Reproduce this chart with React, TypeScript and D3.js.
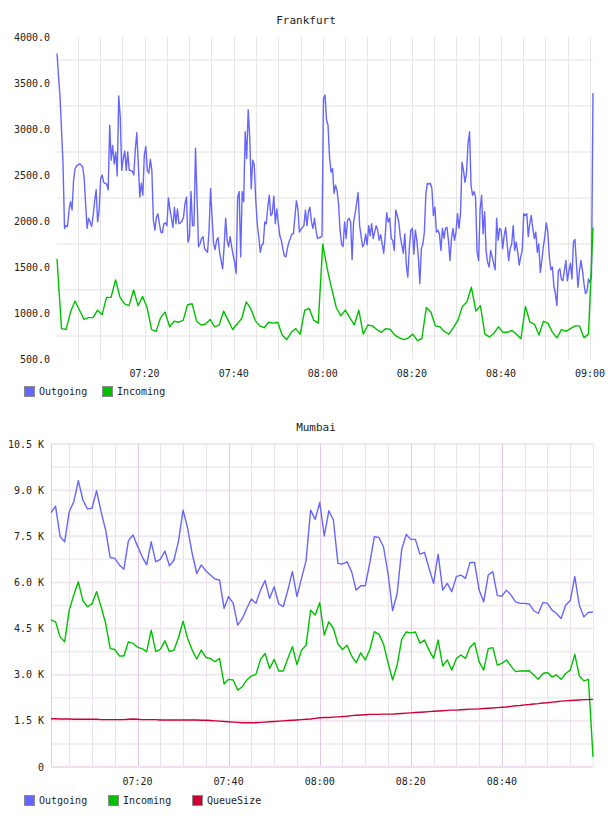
import React, { useRef, useEffect } from 'react';
import * as d3 from 'd3';

// Frankfurt: outgoing sampled every ~20 s, incoming every minute, 07:00:20 - 09:00:40
const frankfurtOutgoing = [
  3820, 3580, 3350, 2990, 2620, 1920, 1950, 1940, 2120, 2210, 2120, 2440, 2570, 2600, 2610, 2620, 2610, 2590, 2480, 2190,
  1920, 2030, 1990, 1940, 2060, 2210, 2340, 1990, 2120, 2460, 2500, 2420, 2410, 2400, 2340, 3040, 2660, 2820, 2620, 2750,
  2490, 3360, 3130, 2550, 2680, 2760, 2550, 2750, 2550, 2550, 2540, 2500, 2770, 2960, 2620, 2260, 2410, 2280, 2720, 2810,
  2550, 2520, 2670, 2550, 2010, 1900, 2040, 2080, 1970, 1880, 1870, 1970, 1980, 1950, 2250, 2130, 2030, 1930, 2150, 1970,
  2130, 1970, 1980, 2000, 2040, 2190, 2260, 1770, 1830, 2320, 1950, 1950, 2790, 2260, 1720, 1750, 1810, 1830, 1700, 1680,
  1660, 1900, 2350, 2040, 1750, 1690, 1790, 1820, 1660, 1570, 1480, 1720, 2030, 1790, 1720, 1830, 1720, 1630, 1550,
  1430, 2260, 2320, 1610, 2320, 2210, 2970, 2680, 3210, 2910, 2350, 2660, 2610, 2230, 1970, 1830, 1660, 1740, 1750, 1990,
  1970, 2150, 2280, 2060, 2080, 2270, 1970, 2130, 1970, 1840, 1790, 1700, 1620, 1610, 1700, 1770, 1810, 1860, 1860, 2040,
  2220, 2130, 1880, 1910, 1930, 1950, 2120, 1950, 2100, 2150, 1990, 1920, 2030, 1900, 1810, 1820, 1820, 1840, 3330, 3370,
  3100, 3040, 2700, 2530, 2570, 2300, 2390, 2330, 2190, 1900, 1750, 1720, 1990, 1810, 2010, 2030, 1990, 1580, 1990, 2080,
  2190, 2310, 1950, 1830, 1720, 1750, 1860, 1740, 1950, 1840, 1970, 1810, 1880, 1950, 1900, 1790, 1850, 1750, 1650, 1840,
  2090, 1990, 2030, 1810, 1790, 1680, 2120, 2060, 1990, 1830, 1740, 1650, 1860, 1520, 1390, 1700, 1900, 1920, 1640, 1900,
  1790, 1610, 1320, 1700, 1750, 1880, 2300, 2410, 2400, 2410, 2350, 2060, 2150, 1880, 1900, 1860, 1680, 1920, 1810, 1920,
  1930, 1790, 1570, 1810, 1920, 1790, 1880, 2080, 1920, 2080, 2640, 2550, 2420, 2520, 2840, 2970, 2390, 2280, 2320, 2260,
  1660, 1570, 2120, 2280, 1860, 2100, 1680, 1550, 1500, 1680, 1610, 1540, 1470, 2030, 1790, 1920, 1900, 1700, 1840, 1930,
  1750, 1570, 1700, 1750, 1950, 1680, 1770, 1660, 1520, 1610, 1680, 2080, 2060, 2080, 1830, 1970, 2060, 1920, 1810, 1880,
  1660, 1750, 1440, 1570, 1720, 1830, 1980, 1880, 1610, 1470, 1500, 1300, 1210, 1080, 1460, 1480, 1370, 1350, 1460, 1570,
  1350, 1460, 1540, 1370, 1770, 1800, 1540, 1280, 1460, 1570, 1460, 1320, 1210, 1230, 1370, 1330, 1390, 3390,
];

const frankfurtIncoming = [
  1590, 830, 820, 1010, 1130, 1030, 930, 950, 950, 1030, 980, 1170, 1170, 1360, 1170, 1100, 1080, 1250, 1080, 1180,
  1060, 820, 800, 950, 1010, 850, 910, 900, 920, 1090, 1100, 910, 870, 880, 930, 850, 870, 1020, 920, 820,
  880, 940, 1120, 1050, 920, 860, 840, 900, 890, 900, 760, 710, 790, 830, 770, 1030, 1050, 920, 890, 1750,
  1480, 1260, 1060, 970, 1030, 950, 870, 1030, 770, 870, 860, 820, 790, 830, 820, 760, 730, 710, 730, 770,
  700, 720, 1060, 1010, 860, 850, 800, 770, 840, 920, 1070, 1120, 1280, 1020, 1080, 770, 740, 780, 850, 790,
  790, 810, 770, 720, 1070, 900, 880, 760, 910, 890, 790, 730, 820, 800, 830, 860, 860, 730, 770, 1930,
];

// Mumbai: one sample per minute, 07:01 - 09:00
const mumbaiOutgoing = [
  8270, 8480, 7490, 7320, 8300, 8620, 9310, 8680, 8390, 8410,
  8980, 8300, 7700, 6810, 6780, 6570, 6430, 7360, 7540, 7180,
  6840, 6570, 7320, 6670, 6750, 7020, 6540, 6730, 7350, 8350,
  7760, 6940, 6290, 6570, 6380, 6240, 6110, 6080, 5160, 5540,
  5320, 4610, 4830, 5160, 5460, 5320, 5750, 6060, 5480, 5860,
  5300, 5210, 5750, 6350, 5540, 6130, 6710, 8350, 8050, 8600,
  7510, 8330, 8030, 6620, 6600, 6670, 6350, 5750, 5890, 5890,
  6640, 7490, 7460, 7160, 6290, 5080, 5640, 7070, 7560, 7400,
  7400, 6920, 6980, 6460, 5970, 6920, 5750, 5970, 5700, 6190,
  6240, 6130, 6650, 6650, 5750, 5370, 6240, 6350, 5570, 5560,
  5750, 5590, 5370, 5320, 5320, 5300, 5080, 4990, 5350, 5320,
  5100, 4990, 4830, 5260, 5410, 6190, 5260, 4880, 5030, 5030,
];

const mumbaiIncoming = [
  4780, 4720, 4230, 4070, 5100, 5590, 6020, 5410, 5210, 5300,
  5700, 5210, 4670, 3850, 3820, 3610, 3610, 4070, 4020, 3890,
  3850, 3750, 4450, 3750, 3820, 4100, 3750, 3800, 4210, 4740,
  4180, 3800, 3510, 3800, 3560, 3530, 3420, 3530, 2700, 2850,
  2830, 2500, 2610, 2830, 2960, 3010, 3500, 3690, 3200, 3500,
  3120, 3120, 3530, 3910, 3330, 3800, 3960, 5100, 4940, 5340,
  4290, 4720, 4510, 4000, 3820, 3960, 3610, 3390, 3710, 3480,
  3820, 4400, 4310, 4000, 3390, 2830, 3310, 4150, 4390, 4360,
  4390, 4020, 4130, 3800, 3530, 4130, 3280, 3480, 3150, 3530,
  3640, 3530, 3890, 4040, 3420, 3150, 3850, 3880, 3310, 3370,
  3480, 3280, 3100, 3120, 3120, 3130, 2990, 2850, 3040, 3070,
  2930, 2990, 2850, 3040, 3150, 3660, 2960, 2800, 2850, 330,
];

const mumbaiQueueSize = [
  1570, 1570, 1560, 1560, 1560, 1550, 1550, 1550, 1550, 1550,
  1550, 1540, 1540, 1540, 1540, 1540, 1540, 1550, 1560, 1550,
  1540, 1540, 1540, 1540, 1530, 1530, 1530, 1530, 1530, 1530,
  1530, 1530, 1530, 1520, 1520, 1510, 1500, 1490, 1480, 1470,
  1460, 1450, 1440, 1440, 1440, 1440, 1450, 1460, 1470, 1480,
  1490, 1500, 1510, 1520, 1530, 1540, 1550, 1560, 1580, 1600,
  1610, 1610, 1620, 1630, 1640, 1650, 1670, 1680, 1690, 1700,
  1710, 1710, 1710, 1720, 1720, 1720, 1730, 1740, 1750, 1760,
  1770, 1780, 1790, 1800, 1810, 1820, 1830, 1840, 1850, 1850,
  1860, 1870, 1880, 1880, 1890, 1900, 1910, 1920, 1930, 1940,
  1950, 1970, 1990, 2000, 2020, 2030, 2050, 2060, 2080, 2090,
  2110, 2120, 2140, 2150, 2160, 2170, 2180, 2190, 2190, 2200,
];

const frankfurtYTicks = [500, 1000, 1500, 2000, 2500, 3000, 3500, 4000];
const mumbaiYTicks = [0, 1500, 3000, 4500, 6000, 7500, 9000, 10500];
const frankfurtTimeLabels = ['07:20', '07:40', '08:00', '08:20', '08:40', '09:00'];
const mumbaiTimeLabels = ['07:20', '07:40', '08:00', '08:20', '08:40'];

const seriesNames = ['Outgoing', 'Incoming', 'QueueSize'];
const seriesColors = ['#6666ff', '#00c000', '#cc0033'];

const parseHMS = d3.timeParse('%H:%M:%S');
const parseHM = d3.timeParse('%H:%M');

interface ChartConfig {
  title: string;
  titleX: number;
  top: number;
  bottom: number;
  left: number;
  right: number;
  start: Date;
  end: Date;
  series: number[][];
  yDomain: [number, number];
  yTicks: number[];
  yFormat: (v: number) => string;
  timeLabels: string[];
  pink: boolean;
  legendY: number;
  legendX: number[];
}

const FONT = "'DejaVu Sans Mono', monospace";

function drawChart(root: d3.Selection<SVGGElement, unknown, null, undefined>, c: ChartConfig) {
  const x = d3.scaleTime().domain([c.start, c.end]).range([c.left, c.right]);
  const y = d3.scaleLinear().domain(c.yDomain).range([c.bottom, c.top]);
  const g = root.append('g');

  // half-step horizontal grid
  const step = c.yTicks[1] - c.yTicks[0];
  const halfLines = c.yTicks.slice(0, -1).map(v => v + step / 2);
  g.selectAll('.hgrid').data(halfLines).enter().append('line')
    .attr('x1', c.left).attr('x2', c.right)
    .attr('y1', d => y(d)).attr('y2', d => y(d))
    .attr('stroke', '#f0f0f0').attr('stroke-width', 2);

  if (c.pink) {
    g.selectAll('.hgrid2').data(c.yTicks.filter(v => v > c.yDomain[0])).enter().append('line')
      .attr('x1', c.left).attr('x2', c.right)
      .attr('y1', d => y(d)).attr('y2', d => y(d))
      .attr('stroke', '#f3e6f3').attr('stroke-width', 2);
  }

  // vertical grid every 5 minutes
  const minutes = d3.timeMinute.every(5)!.range(c.start, c.end);
  g.selectAll('.vgrid').data(minutes).enter().append('line')
    .attr('x1', d => Math.round(x(d)) + 0.5).attr('x2', d => Math.round(x(d)) + 0.5)
    .attr('y1', c.top).attr('y2', c.bottom)
    .attr('stroke', d => c.pink ? (d.getMinutes() % 20 === 0 ? '#e2c8e2' : '#ece2ec') : '#e6e6e6')
    .attr('stroke-width', 1);

  if (c.pink) {
    g.append('line').attr('x1', c.left + 0.5).attr('x2', c.left + 0.5)
      .attr('y1', c.top).attr('y2', c.bottom).attr('stroke', '#e2c8e2');
    g.append('line').attr('x1', c.left).attr('x2', c.right)
      .attr('y1', c.bottom).attr('y2', c.bottom).attr('stroke', '#f0dff0').attr('stroke-width', 2);
    g.append('line').attr('x1', c.right + 0.5).attr('x2', c.right + 0.5)
      .attr('y1', c.top).attr('y2', c.bottom).attr('stroke', '#f0e6f0');
  }

  // y labels
  g.selectAll('.ylab').data(c.yTicks).enter().append('text')
    .attr('x', c.left - 7).attr('y', d => y(d) + 3.5)
    .attr('text-anchor', 'end')
    .style('font-family', FONT).style('font-size', '10px').attr('fill', '#222')
    .text(d => c.yFormat(d));

  // time labels
  g.selectAll('.xlab').data(c.timeLabels).enter().append('text')
    .attr('x', d => x(parseHM(d)!)).attr('y', c.bottom + 18)
    .attr('text-anchor', 'middle')
    .style('font-family', FONT).style('font-size', '10px').attr('fill', '#222')
    .text(d => d);

  // series
  c.series.forEach((values, si) => {
    const dt = (c.end.getTime() - c.start.getTime()) / (values.length - 1);
    const line = d3.line<number>()
      .x((_, i) => x(new Date(c.start.getTime() + i * dt)))
      .y(d => y(d));
    g.append('path').datum(values)
      .attr('fill', 'none').attr('stroke', seriesColors[si])
      .attr('stroke-width', 1.4).attr('stroke-linejoin', 'round')
      .attr('d', line);
  });

  // title
  g.append('text').attr('x', c.titleX).attr('y', c.top - 13)
    .attr('text-anchor', 'middle')
    .style('font-family', FONT).style('font-size', '11px').attr('fill', '#222')
    .text(c.title);

  // legend
  c.series.forEach((_, si) => {
    g.append('rect')
      .attr('x', c.legendX[si] + 0.5).attr('y', c.legendY + 0.5)
      .attr('width', 10).attr('height', 10)
      .attr('fill', seriesColors[si]).attr('stroke', '#8a8a8a');
    g.append('text')
      .attr('x', c.legendX[si] + 15).attr('y', c.legendY + 9)
      .style('font-family', FONT).style('font-size', '10px').attr('fill', '#222')
      .text(seriesNames[si]);
  });
}

const kFormat = (v: number) => (v === 0 ? '0' : `${(v / 1000).toFixed(1)} K`);

export default function App() {
  const ref = useRef<SVGSVGElement>(null);

  useEffect(() => {
    if (!ref.current) return;
    const svg = d3.select(ref.current);
    svg.selectAll('*').remove();
    const root = svg.append('g');

    drawChart(root, {
      title: 'Frankfurt', titleX: 306,
      top: 37, bottom: 359, left: 57, right: 593,
      start: parseHMS('07:00:20')!, end: parseHMS('09:00:40')!,
      series: [frankfurtOutgoing, frankfurtIncoming],
      yDomain: [500, 4000], yTicks: frankfurtYTicks,
      yFormat: v => v.toFixed(1),
      timeLabels: frankfurtTimeLabels,
      pink: false,
      legendY: 386, legendX: [24, 102],
    });

    drawChart(root, {
      title: 'Mumbai', titleX: 316,
      top: 444, bottom: 767, left: 51, right: 593,
      start: parseHMS('07:01:00')!, end: parseHMS('09:00:00')!,
      series: [mumbaiOutgoing, mumbaiIncoming, mumbaiQueueSize],
      yDomain: [0, 10500], yTicks: mumbaiYTicks,
      yFormat: kFormat,
      timeLabels: mumbaiTimeLabels,
      pink: true,
      legendY: 795, legendX: [24, 108, 192],
    });
  }, []);

  return (
    <svg ref={ref} width={608} height={816}
      style={{ position: 'absolute', left: 0, top: 0, background: '#fff' }} />
  );
}
